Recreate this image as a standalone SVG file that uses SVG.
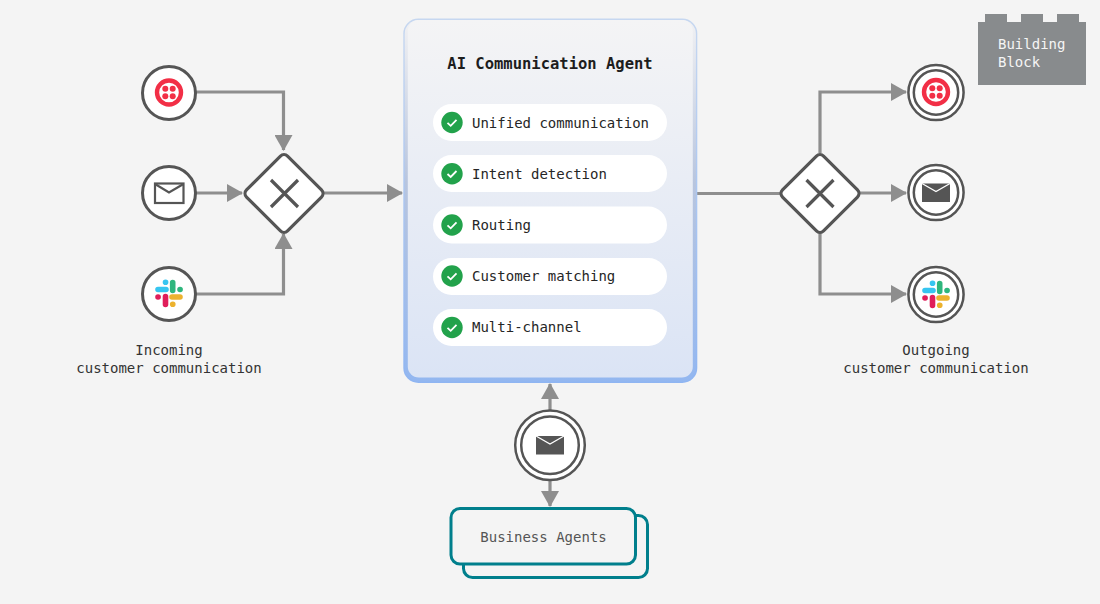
<svg xmlns="http://www.w3.org/2000/svg" width="1100" height="604" viewBox="0 0 1100 604">
<style>
text{font-family:"DejaVu Sans Mono","Liberation Mono",monospace;font-size:14px;fill:#262626}
.lab{text-anchor:middle;fill:#333}
.c{fill:#fff;stroke:#555;stroke-width:3}
.c2{fill:#fff;stroke:#555;stroke-width:2.5}
.ln{fill:none;stroke:#8e8e8e;stroke-width:3.2}
.pill{fill:#fff}
.x{stroke:#555;stroke-width:3.2;fill:none}
.d{fill:#fff;stroke:#555;stroke-width:3.2;stroke-linejoin:round}
</style>
<defs>
<marker id="a" markerUnits="userSpaceOnUse" markerWidth="18" markerHeight="18" refX="15" refY="9" orient="auto-start-reverse"><path d="M0 0L16 9L0 18Z" fill="#8e8e8e"/></marker>
<linearGradient id="pg" x1="0" y1="0" x2="0" y2="1"><stop offset="0" stop-color="#f4f4f5"/><stop offset="1" stop-color="#dbe4f5"/></linearGradient>
<linearGradient id="po" x1="0" y1="0" x2="0" y2="1"><stop offset="0" stop-color="#c6d7f0"/><stop offset="1" stop-color="#8fb5f2"/></linearGradient>
<linearGradient id="pb" x1="0" y1="0" x2="0" y2="1"><stop offset="0" stop-color="#f1f1f3"/><stop offset="0.45" stop-color="#b8c5de"/><stop offset="1" stop-color="#93b7f0"/></linearGradient>
<g id="tw"><circle r="12" fill="none" stroke="#f22f46" stroke-width="4.400"/><circle cx="-3.700" cy="-3.700" r="3" fill="#f22f46"/><circle cx="3.700" cy="-3.700" r="3" fill="#f22f46"/><circle cx="-3.700" cy="3.700" r="3" fill="#f22f46"/><circle cx="3.700" cy="3.700" r="3" fill="#f22f46"/></g>
<g id="sl" stroke-linecap="round" fill="none" stroke-width="5.600">
<path d="M-11 -4H-3M-3.500 -11.200h0.100" stroke="#36c5f0"/>
<path d="M3.700 -11V-3M11 -4h0.100" stroke="#2eb67d"/>
<path d="M11 3.500H3M3.700 10.800h0.100" stroke="#ecb22e"/>
<path d="M-3.500 3V11M-11 3.500h0.100" stroke="#e01e5a"/>
</g>
<g id="ms"><rect x="-14" y="-9.500" width="28" height="18.500" fill="#555"/><path d="M-14 -9.500L0 -1.500L14 -9.500" fill="none" stroke="#fff" stroke-width="1.300"/></g>
<g id="ck"><circle r="10.700" fill="#22a24b"/><path d="M-4.500 0.300L-1.300 3.300L4.500 -2.700" fill="none" stroke="#fff" stroke-width="1.800"/></g>
</defs>
<rect width="1100" height="604" fill="#f4f4f4"/>
<g id="connectors">
<path class="ln" d="M196 92H283.500V150" marker-end="url(#a)"/>
<path class="ln" d="M196 193H242" marker-end="url(#a)"/>
<path class="ln" d="M196 294H283.500V234" marker-end="url(#a)"/>
<path class="ln" d="M324 193H402" marker-end="url(#a)"/>
<path class="ln" d="M696 193.500H780"/>
<path class="ln" d="M820 153V92H906" marker-end="url(#a)"/>
<path class="ln" d="M860 193H906" marker-end="url(#a)"/>
<path class="ln" d="M820 233V294H906" marker-end="url(#a)"/>
<path class="ln" d="M550 410V384" marker-end="url(#a)"/>
<path class="ln" d="M550 481V506" marker-end="url(#a)"/>
</g>
<g id="in-twilio"><circle class="c" cx="169" cy="93" r="26.500"/><use href="#tw" x="169" y="92.500"/></g>
<g id="in-mail"><circle class="c" cx="169" cy="193" r="26.500"/><rect x="155" y="183.500" width="28.500" height="19.500" fill="none" stroke="#555" stroke-width="2.200"/><path d="M155 184L169 192.500L183.500 184" fill="none" stroke="#555" stroke-width="2.200"/></g>
<g id="in-slack"><circle class="c" cx="169" cy="294" r="26.500"/><use href="#sl" x="169" y="293.500"/></g>
<g id="gw-in"><rect class="d" x="255" y="164.500" width="58" height="58" rx="5" transform="rotate(45 284 193.500)"/><path class="x" d="M271 180L298 207M298 180L271 207"/></g>
<g id="gw-out"><rect class="d" x="791" y="164.500" width="58" height="58" rx="5" transform="rotate(45 820 193.500)"/><path class="x" d="M806.500 180L833.500 207M833.500 180L806.500 207"/></g>
<g id="agent">
<rect x="403.300" y="18.500" width="294" height="364.500" rx="15" fill="url(#po)"/>
<rect x="404.700" y="20" width="291.200" height="361.500" rx="14" fill="url(#pb)"/>
<rect x="407.800" y="20" width="285" height="357.500" rx="11" fill="url(#pg)"/>
<text x="550" y="69" text-anchor="middle" style="font-size:15.500px;font-weight:700;fill:#1d1d1d">AI Communication Agent</text>
<g id="item-1"><rect class="pill" x="433" y="104" width="234" height="37" rx="18.500"/><use href="#ck" x="452" y="122.500"/><text x="472" y="127.500">Unified communication</text></g>
<g id="item-2"><rect class="pill" x="433" y="155" width="234" height="37" rx="18.500"/><use href="#ck" x="452" y="173.700"/><text x="472" y="178.500">Intent detection</text></g>
<g id="item-3"><rect class="pill" x="433" y="206.500" width="234" height="37" rx="18.500"/><use href="#ck" x="452" y="225"/><text x="472" y="230">Routing</text></g>
<g id="item-4"><rect class="pill" x="433" y="258" width="234" height="37" rx="18.500"/><use href="#ck" x="452" y="276"/><text x="472" y="281">Customer matching</text></g>
<g id="item-5"><rect class="pill" x="433" y="309" width="234" height="37" rx="18.500"/><use href="#ck" x="452" y="327.500"/><text x="472" y="332">Multi-channel</text></g>
</g>
<g id="out-twilio"><circle class="c2" cx="936" cy="92.500" r="27.600"/><circle class="c2" cx="936" cy="92.500" r="22.200"/><use href="#tw" x="936" y="92"/></g>
<g id="out-mail"><circle class="c2" cx="936" cy="192.500" r="27.600"/><circle class="c2" cx="936" cy="192.500" r="22.200"/><use href="#ms" x="936" y="193"/></g>
<g id="out-slack"><circle class="c2" cx="936" cy="294.500" r="27.600"/><circle class="c2" cx="936" cy="294.500" r="22.200"/><use href="#sl" x="936" y="294.500"/></g>
<g id="mid-mail"><circle class="c2" cx="550" cy="445.300" r="34.800"/><circle class="c2" cx="550" cy="445.300" r="28.800"/><use href="#ms" x="550" y="445.500"/></g>
<g id="business-agents">
<rect x="463.500" y="515.500" width="184" height="62" rx="9" fill="none" stroke="#007f8c" stroke-width="3"/>
<rect x="451" y="508.500" width="184.500" height="55.500" rx="9" fill="#f4f4f4" stroke="#007f8c" stroke-width="3"/>
<text x="543.500" y="541.500" text-anchor="middle" style="fill:#555">Business Agents</text>
</g>
<g id="building-block">
<path d="M978 22H985V14H1007V22H1021V14H1043V22H1057V14H1079V22H1086V85H978Z" fill="#888b8d"/>
<text x="998" y="49" style="fill:#f5f5f5">Building</text>
<text x="998" y="67" style="fill:#f5f5f5">Block</text>
</g>
<text class="lab" x="169" y="355">Incoming</text>
<text class="lab" x="169" y="373">customer communication</text>
<text class="lab" x="936" y="355">Outgoing</text>
<text class="lab" x="936" y="373">customer communication</text>
</svg>
